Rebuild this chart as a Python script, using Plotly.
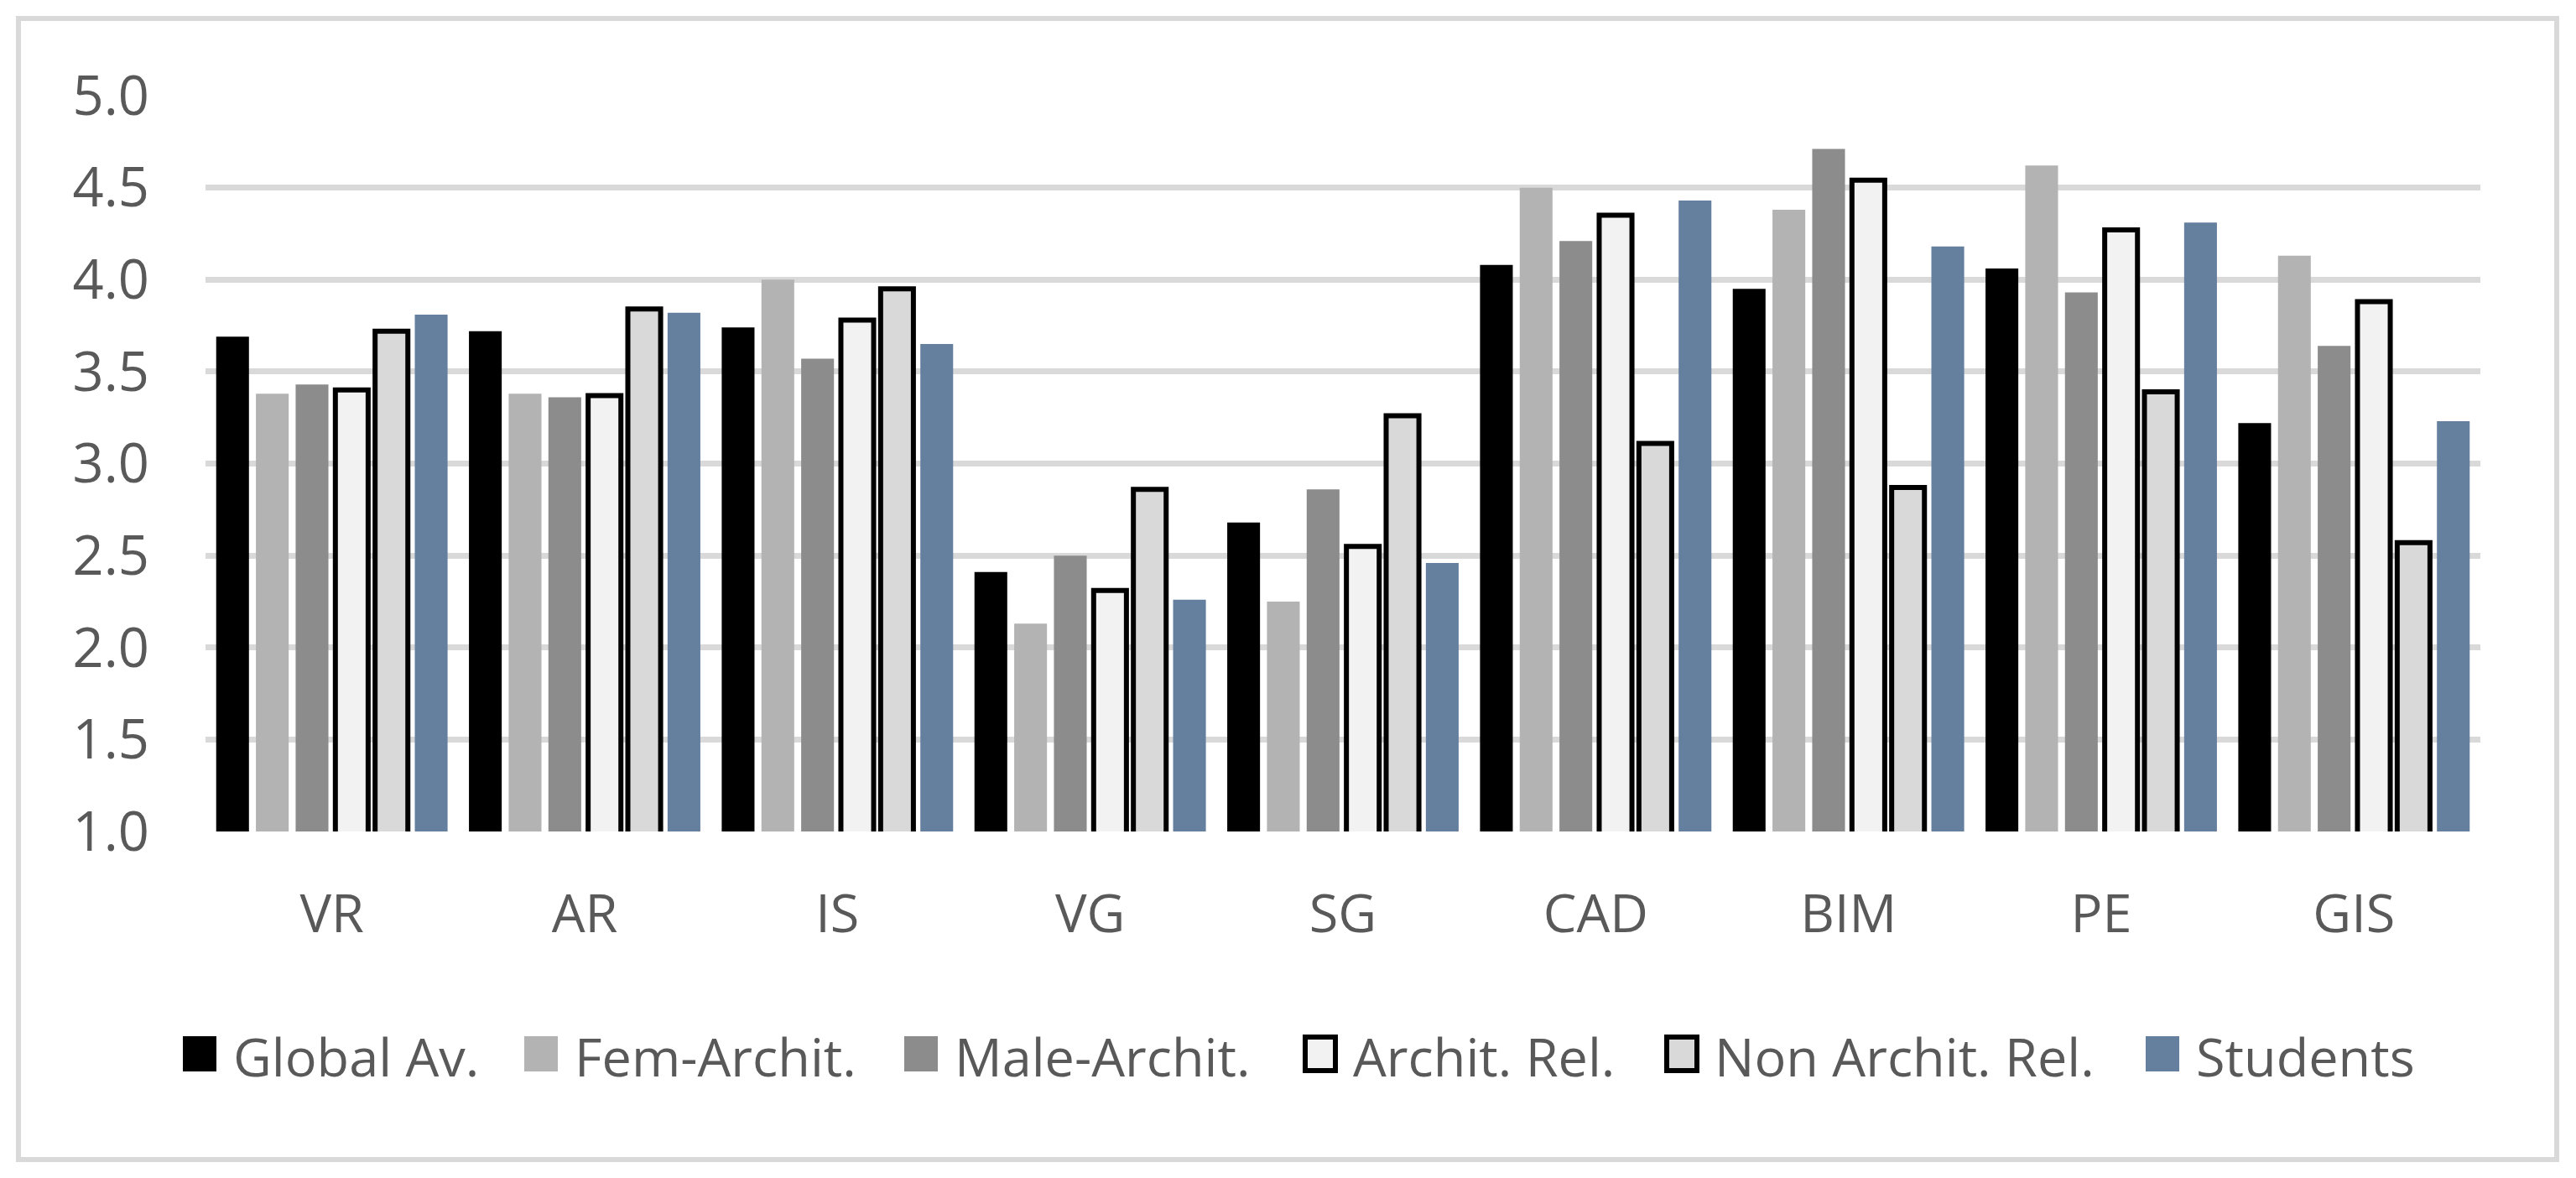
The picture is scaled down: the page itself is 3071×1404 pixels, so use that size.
import plotly.graph_objects as go

# ---- data ----
categories = ["VR", "AR", "IS", "VG", "SG", "CAD", "BIM", "PE", "GIS"]
series_names = ["Global Av.", "Fem-Archit.", "Male-Archit.", "Archit. Rel.", "Non Archit. Rel.", "Students"]
global_av = [3.69, 3.72, 3.74, 2.41, 2.68, 4.08, 3.95, 4.06, 3.22]
fem_archit = [3.38, 3.38, 4.00, 2.13, 2.25, 4.50, 4.38, 4.62, 4.13]
male_archit = [3.43, 3.36, 3.57, 2.50, 2.86, 4.21, 4.71, 3.93, 3.64]
archit_rel = [3.40, 3.37, 3.78, 2.31, 2.55, 4.35, 4.54, 4.27, 3.88]
non_archit_rel = [3.72, 3.84, 3.95, 2.86, 3.26, 3.11, 2.87, 3.39, 2.57]
students = [3.81, 3.82, 3.65, 2.26, 2.46, 4.43, 4.18, 4.31, 3.23]
y_ticks = [1.0, 1.5, 2.0, 2.5, 3.0, 3.5, 4.0, 4.5, 5.0]

# ---- styles ----
W, H = 3071, 1404
PL, PR, PT, PB = 245, 2957, 114, 991  # plot area in pixels
FONT = "Open Sans"
TXT = "#595959"
GRID = "#d9d9d9"
fills = ["#000000", "#b3b3b3", "#8c8c8c", "#f2f2f2", "#d9d9d9", "#657f9e"]
outlined = [False, False, False, True, True, False]
values = [global_av, fem_archit, male_archit, archit_rel, non_archit_rel, students]

fig = go.Figure()
for name, vals, col, outl in zip(series_names, values, fills, outlined):
    fig.add_trace(go.Bar(
        x=categories, y=vals, name=name,
        marker=dict(color=col,
                    line=dict(color="#000000" if outl else col, width=6 if outl else 0)),
        showlegend=False,
    ))

def px_x(px):
    return (px - PL) / (PR - PL)

def px_y(py):
    return (PB - py) / (PB - PT)

shapes = []
annotations = []
# outer frame
shapes.append(dict(type="rect", xref="paper", yref="paper",
                   x0=px_x(22), x1=px_x(3048), y0=px_y(1382), y1=px_y(22),
                   line=dict(color=GRID, width=6), fillcolor="rgba(0,0,0,0)", layer="below"))

# manual legend
leg_y = 1256
sq = 40
leg_sq_left = [218, 625, 1078, 1553, 1984, 2558]
for name, col, outl, sx in zip(series_names, fills, outlined, leg_sq_left):
    if outl:
        shapes.append(dict(type="rect", xref="paper", yref="paper",
                           x0=px_x(sx + 3), x1=px_x(sx + 3 + sq - 4),
                           y0=px_y(leg_y + sq / 2), y1=px_y(leg_y - sq / 2),
                           line=dict(color="#000000", width=6), fillcolor=col))
    else:
        shapes.append(dict(type="rect", xref="paper", yref="paper",
                           x0=px_x(sx), x1=px_x(sx + sq),
                           y0=px_y(leg_y + sq / 2 + 1), y1=px_y(leg_y - sq / 2 - 1),
                           line=dict(width=0), fillcolor=col))
    annotations.append(dict(xref="paper", yref="paper", x=px_x(sx + sq + 18), y=px_y(leg_y + 2),
                            xanchor="left", yanchor="middle", showarrow=False,
                            text=name, font=dict(family=FONT, size=63, color=TXT)))

fig.update_layout(
    width=W, height=H,
    margin=dict(l=PL, r=W - PR, t=PT, b=H - PB, pad=0),
    paper_bgcolor="white", plot_bgcolor="white",
    barmode="group", bargap=0.057, bargroupgap=0.175,
    font=dict(family=FONT, color=TXT, size=63),
    shapes=shapes, annotations=annotations,
    showlegend=False,
)
fig.update_xaxes(showgrid=False, showline=False, zeroline=False, ticks="",
                 tickfont=dict(family=FONT, size=63, color=TXT), ticklabelstandoff=56)
fig.update_yaxes(range=[1, 5], tickvals=y_ticks, tickformat=".1f",
                 showgrid=True, gridcolor=GRID, gridwidth=7,
                 showline=False, zeroline=False, ticks="",
                 tickfont=dict(family=FONT, size=65, color=TXT), ticklabelstandoff=66)

fig.write_html("out.html", config={"displayModeBar": False},
               post_script="document.body.style.margin='0';document.body.style.overflow='hidden';")
